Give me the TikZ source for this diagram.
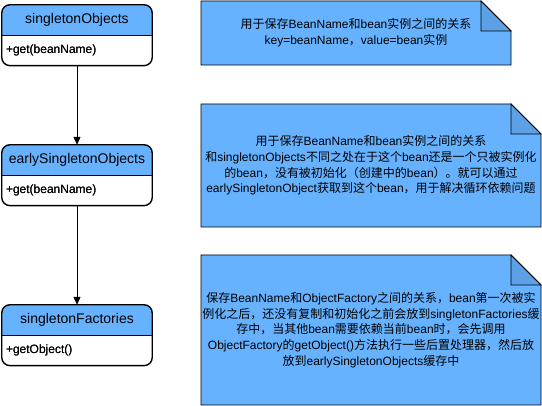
\documentclass[tikz,border=0pt]{standalone}
\usepackage{fontspec}
\setmainfont{Liberation Sans}
\newfontfamily\cjk{Noto Sans CJK SC}
\usetikzlibrary{arrows.meta,positioning}
\definecolor{hb}{RGB}{102,178,255}
\definecolor{fold}{RGB}{92,160,230}
\tikzset{
  hdr/.style={minimum width=150pt,minimum height=30pt,inner sep=0pt,font=\fontsize{14}{16}\selectfont},
  bdy/.style={text width=142pt,inner xsep=4pt,inner ysep=0pt,minimum height=30pt,align=left,font=\fontsize{12}{14}\selectfont},
  border/.style={line width=1.4pt,rounded corners=8pt},
  notetext/.style={align=center,font=\fontsize{12}{15.7}\selectfont},
  notebox/.style={draw=black,line width=0.9pt,fill=hb},
  foldbox/.style={draw=black,line width=0.9pt,fill=fold},
  conn/.style={line width=0.9pt,-{Triangle[length=8pt,width=7pt]}}
}
\newcommand{\classbox}[4]{%
  \node[hdr] (#1h) at (77,#2) {#3};
  \node[bdy,below=0pt of #1h] (#1b) {#4};
  \begin{scope}
    \clip[rounded corners=8pt] (#1h.north west) rectangle (#1b.south east);
    \fill[hb] (#1h.north west) rectangle (#1h.south east);
  \end{scope}
  \draw[border] (#1h.north west) rectangle (#1b.south east);
  \draw[line width=1pt] (#1h.south west) -- (#1h.south east);
  \node[hdr] at (#1h) {#3};
  \node[bdy] at (#1b) {#4};
}
\newcommand{\notebox}[6]{%
  % name, x1, y1, x2, y2, text
  \coordinate (#1nw) at (#2,#3);
  \coordinate (#1se) at (#4,#5);
  \path[notebox] (#2,#3) -- (#4-30,#3) -- (#4,#3+30) -- (#4,#5) -- (#2,#5) -- cycle;
  \path[foldbox] (#4-30,#3) -- (#4-30,#3+30) -- (#4,#3+30) -- cycle;
  \node[notetext] (#1) at ({(#2+#4)/2},{(#3+#5)/2}) {#6};
}
\begin{document}
\begin{tikzpicture}[x=1pt,y=-1pt]
\useasboundingbox (0,0) rectangle (542,406);
\classbox{a}{20}{singletonObjects}{+get(beanName)}
\classbox{b}{160}{earlySingletonObjects}{+get(beanName)}
\classbox{c}{320}{singletonFactories}{+getObject()}
\draw[conn] (ab.south) -- (bh.north);
\draw[conn] (bb.south) -- (ch.north);

\notebox{n1}{201}{1}{511}{65}{{\cjk 用于保存}BeanName{\cjk 和}bean{\cjk 实例之间的关系}\\
key=beanName{\cjk ，}value=bean{\cjk 实例}}

\notebox{n2}{201}{104}{541}{227}{{\cjk 用于保存}BeanName{\cjk 和}bean{\cjk 实例之间的关系}\\
{\cjk 和}singletonObjects{\cjk 不同之处在于这个}bean{\cjk 还是一个只被实例化}\\
{\cjk 的}bean{\cjk ，没有被初始化（创建中的}bean{\cjk ）。就可以通过}\\
earlySingletonObject{\cjk 获取到这个}bean{\cjk ，用于解决循环依赖问题}}

\notebox{n3}{201}{255}{541}{405}{{\cjk 保存}BeanName{\cjk 和}ObjectFactory{\cjk 之间的关系，}bean{\cjk 第一次被实}\\
{\cjk 例化之后，还没有复制和初始化之前会放到}singletonFactories{\cjk 缓}\\
{\cjk 存中，当其他}bean{\cjk 需要依赖当前}bean{\cjk 时，会先调用}\\
ObjectFactory{\cjk 的}getObject(){\cjk 方法执行一些后置处理器，然后放}\\
{\cjk 放到}earlySingletonObjects{\cjk 缓存中}}
\end{tikzpicture}
\end{document}
